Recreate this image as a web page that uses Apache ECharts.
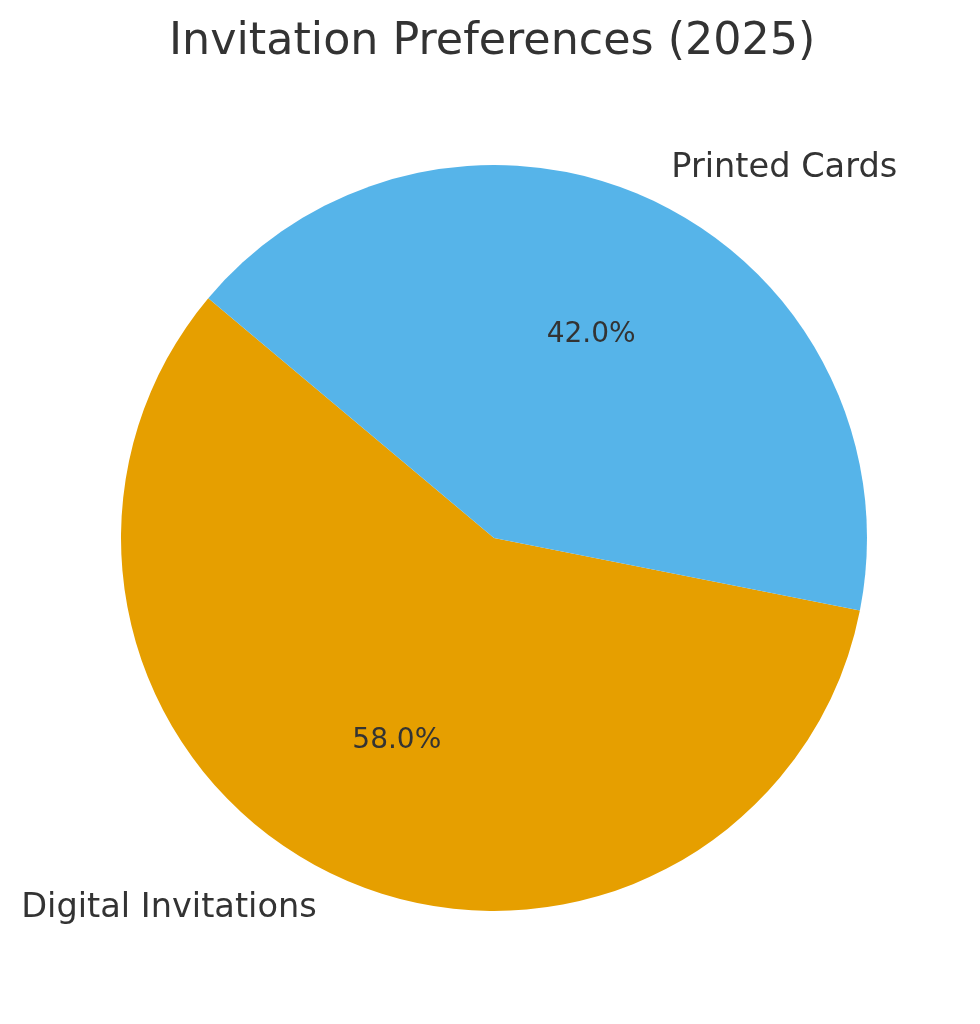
<!DOCTYPE html>
<html>
<head>
<meta charset="utf-8">
<script src="https://cdn.jsdelivr.net/npm/echarts@6/dist/echarts.min.js"></script>
<style>
html,body{margin:0;padding:0;background:#fff;}
#pie_main{width:980px;height:1024px;}
</style>
</head>
<body>
<div id="pie_main"></div>
<script>
var pie_title='Invitation Preferences (2025)';
var pie_name=['Digital Invitations','Printed Cards'];
var pie_value=[58,42];
var pie_color=['#E69F00','#56B4E9'];

function data_jsoning(names,values){
	var data_json=[];
	for(var i=0;i<names.length;i++){
		data_json.push({value:values[i],name:names[i]});
	}
	return data_json;
}

var R=373;
var myChart=echarts.init(document.getElementById('pie_main'));
myChart.setOption({
	color:pie_color,
	title:{
		text:pie_title,
		left:169,
		top:20,
		padding:0,
		textStyle:{
			fontFamily:'DejaVu Sans',
			fontSize:44.4,
			fontWeight:'normal',
			color:'#333333'
		}
	},
	series:[
	{
		// the pie itself, with outside names
		type:'pie',
		center:[494,538],
		radius:[0,R],
		startAngle:140,
		clockwise:false,
		avoidLabelOverlap:false,
		silent:true,
		label:{
			show:true,
			position:'outside',
			distanceToLabelLine:0,
			fontFamily:'DejaVu Sans',
			fontSize:33.6,
			color:'#333333',
			formatter:'{b}'
		},
		labelLine:{show:false,length:R*0.1,length2:0},
		data:data_jsoning(pie_name,pie_value)
	},
	{
		// transparent copy, only used to put the percent at 0.6 R
		type:'pie',
		center:[494,538],
		radius:[0,R*1.19],
		startAngle:140,
		clockwise:false,
		silent:true,
		itemStyle:{color:'transparent'},
		label:{
			show:true,
			position:'inside',
			fontFamily:'DejaVu Sans',
			fontSize:28,
			color:'#333333',
			formatter:function(p){return p.percent.toFixed(1)+'%';}
		},
		labelLine:{show:false},
		data:data_jsoning(pie_name,pie_value)
	}]
});
</script>
</body>
</html>
